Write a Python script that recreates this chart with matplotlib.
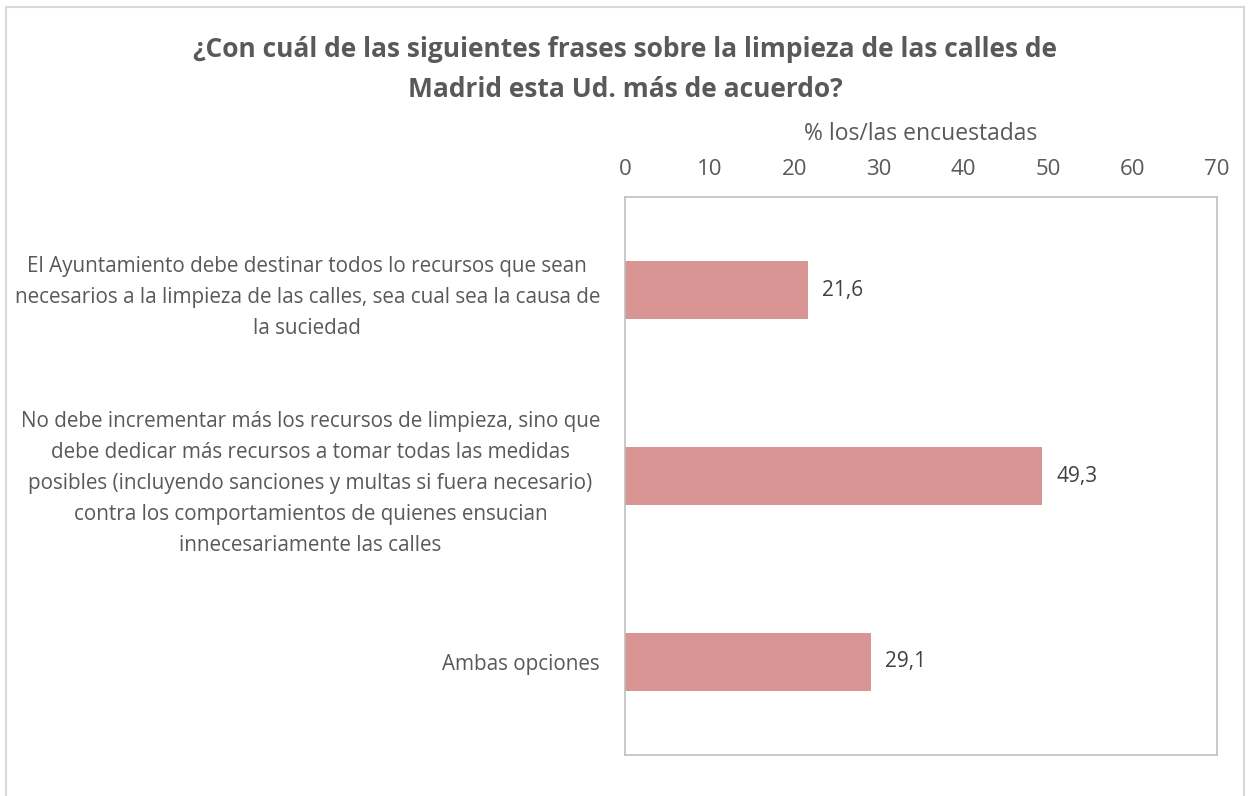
import matplotlib
matplotlib.use("Agg")
import matplotlib.pyplot as plt
from matplotlib.patches import Rectangle

# Datos de la encuesta
categorias = [
    "El Ayuntamiento debe destinar todos lo recursos que sean\n"
    "necesarios a la limpieza de las calles, sea cual sea la causa de\n"
    "la suciedad",
    "No debe incrementar más los recursos de limpieza, sino que\n"
    "debe dedicar más recursos a tomar todas las medidas\n"
    "posibles (incluyendo sanciones y multas si fuera necesario)\n"
    "contra los comportamientos de quienes ensucian\n"
    "innecesariamente las calles",
    "Ambas opciones",
]
valores = [21.6, 49.3, 29.1]
ticks_x = [0, 10, 20, 30, 40, 50, 60, 70]

titulo = ("¿Con cuál de las siguientes frases sobre la limpieza de las calles de\n"
          "Madrid esta Ud. más de acuerdo?")
eje_x = "% los/las encuestadas"

gris = "#595959"
plt.rcParams['font.family'] = ['Open Sans', 'DejaVu Sans']

W, H = 1250, 796
fig = plt.figure(figsize=(W / 100, H / 100), dpi=100)

# borde exterior del grafico
fig.patches.append(Rectangle((6 / W, -0.01), (1244 - 6) / W, 1 - 7 / H + 0.01,
                             transform=fig.transFigure, fill=False,
                             edgecolor="#D9D9D9", linewidth=1.5))

ax = fig.add_axes([625 / W, 1 - 755 / H, (1217 - 625) / W, (755 - 197) / H])
pos = list(range(len(categorias)))
ax.barh(pos, valores, height=0.31, color="#D99594")
ax.set_ylim(2.5, -0.5)
ax.set_xlim(0, 70)
ax.set_xticks(ticks_x)
ax.xaxis.tick_top()
ax.xaxis.set_label_position("top")
ax.set_xlabel(eje_x, fontsize=16.5, color=gris, labelpad=14)
ax.tick_params(axis="x", length=0, labelsize=16, labelcolor=gris, pad=12)
ax.set_yticks(pos)
ax.set_yticklabels(categorias, fontsize=14.9, color=gris, ha="right",
                   multialignment="center", linespacing=1.62)
ax.tick_params(axis="y", length=0, pad=18)
for s in ax.spines.values():
    s.set_color("#BFBFBF")
    s.set_linewidth(1.2)

for p, v in zip(pos, valores):
    ax.text(v + 1.7, p, f"{v:.1f}".replace(".", ","), va="center", ha="left",
            fontsize=15, color="#404040")

fig.text(625 / W, 1 - 69.5 / H, titulo, ha="center", va="center", fontsize=19,
         fontweight="bold", color=gris, linespacing=1.6)

fig.savefig("out.png", dpi=100)
